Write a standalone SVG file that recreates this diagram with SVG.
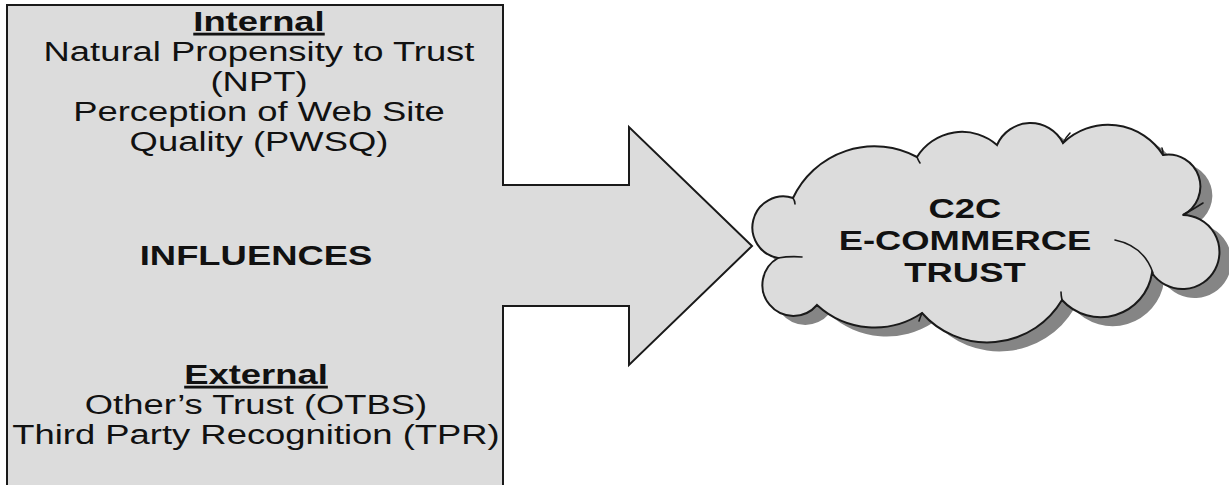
<svg xmlns="http://www.w3.org/2000/svg" width="1229" height="485" viewBox="0 0 1229 485">
<style>
.shape{fill:#dcdcdc;stroke:#1a1a1a;stroke-width:2;stroke-linejoin:miter}
.t{font-family:"Liberation Sans",Arial,sans-serif;font-size:28px;fill:#111;text-anchor:middle}
.b{font-weight:bold}
.hook{fill:none;stroke:#1a1a1a;stroke-width:1.6;stroke-linecap:round}
</style>
<rect width="1229" height="485" fill="#ffffff"/>
<g id="influences">
<rect class="shape" x="7" y="5" width="496" height="490"/>
<g transform="translate(259,0) scale(1.3,1)">
<text class="t b" x="0" y="31" text-decoration="underline">Internal</text>
<text class="t" x="0" y="61">Natural Propensity to Trust</text>
<text class="t" x="0" y="91">(NPT)</text>
<text class="t" x="0" y="121">Perception of Web Site</text>
<text class="t" x="0" y="151">Quality (PWSQ)</text>
</g>
<g transform="translate(256,0) scale(1.3,1)">
<text class="t b" x="0" y="265">INFLUENCES</text>
<text class="t b" x="0" y="384" text-decoration="underline">External</text>
<text class="t" x="0" y="414">Other’s Trust (OTBS)</text>
<text class="t" x="0" y="444">Third Party Recognition (TPR)</text>
</g>
</g>
<g id="connectors">
<polygon points="501,186 629,186 629,127 752,246 629,365 629,305 501,305" fill="#dcdcdc"/>
<polyline class="shape" style="fill:none" points="503,185 629,185 629,127 752,246 629,365 629,306 503,306"/>
</g>
<g id="cloud">
<path transform="translate(12,9)" fill="#858585" d="M793,198 A90,90 0 0 1 917,157 A53,53 0 0 1 997,145 A36.5,36.5 0 0 1 1063,143 A65,65 0 0 1 1163,155 A32,32 0 0 1 1183,215 A37,37 0 1 1 1152,273 A52,52 0 0 1 1062,300 A87,87 0 0 1 922,313 A85,85 0 0 1 817,305 A31,31 0 1 1 778,258 A31,31 0 1 1 793,198 Z"/>
<path class="shape" stroke-width="1.8" d="M793,198 A90,90 0 0 1 917,157 A53,53 0 0 1 997,145 A36.5,36.5 0 0 1 1063,143 A65,65 0 0 1 1163,155 A32,32 0 0 1 1183,215 A37,37 0 1 1 1152,273 A52,52 0 0 1 1062,300 A87,87 0 0 1 922,313 A85,85 0 0 1 817,305 A31,31 0 1 1 778,258 A31,31 0 1 1 793,198 Z"/>
<path class="hook" d="M778,258 Q790,256 802,257"/>
<path class="hook" d="M793,198 Q795,201 795,204"/>
<path class="hook" d="M917,157 Q918,160 920,163"/>
<path class="hook" d="M1063,143 Q1066,137 1070,133"/>
<path class="hook" d="M1163,155 Q1163,150 1162,148"/>
<path class="hook" d="M1183,215 Q1192,210 1203,203"/>
<path class="hook" d="M1115,240 Q1144,246 1153,273"/>
<path class="hook" d="M1062,300 Q1061,295 1061,292"/>
<path class="hook" d="M922,313 Q920,318 919,321"/>
<g transform="translate(965,0) scale(1.3,1)">
<text class="t b" x="0" y="218">C2C</text>
<text class="t b" x="0" y="250">E-COMMERCE</text>
<text class="t b" x="0" y="282">TRUST</text>
</g>
</g>
</svg>
